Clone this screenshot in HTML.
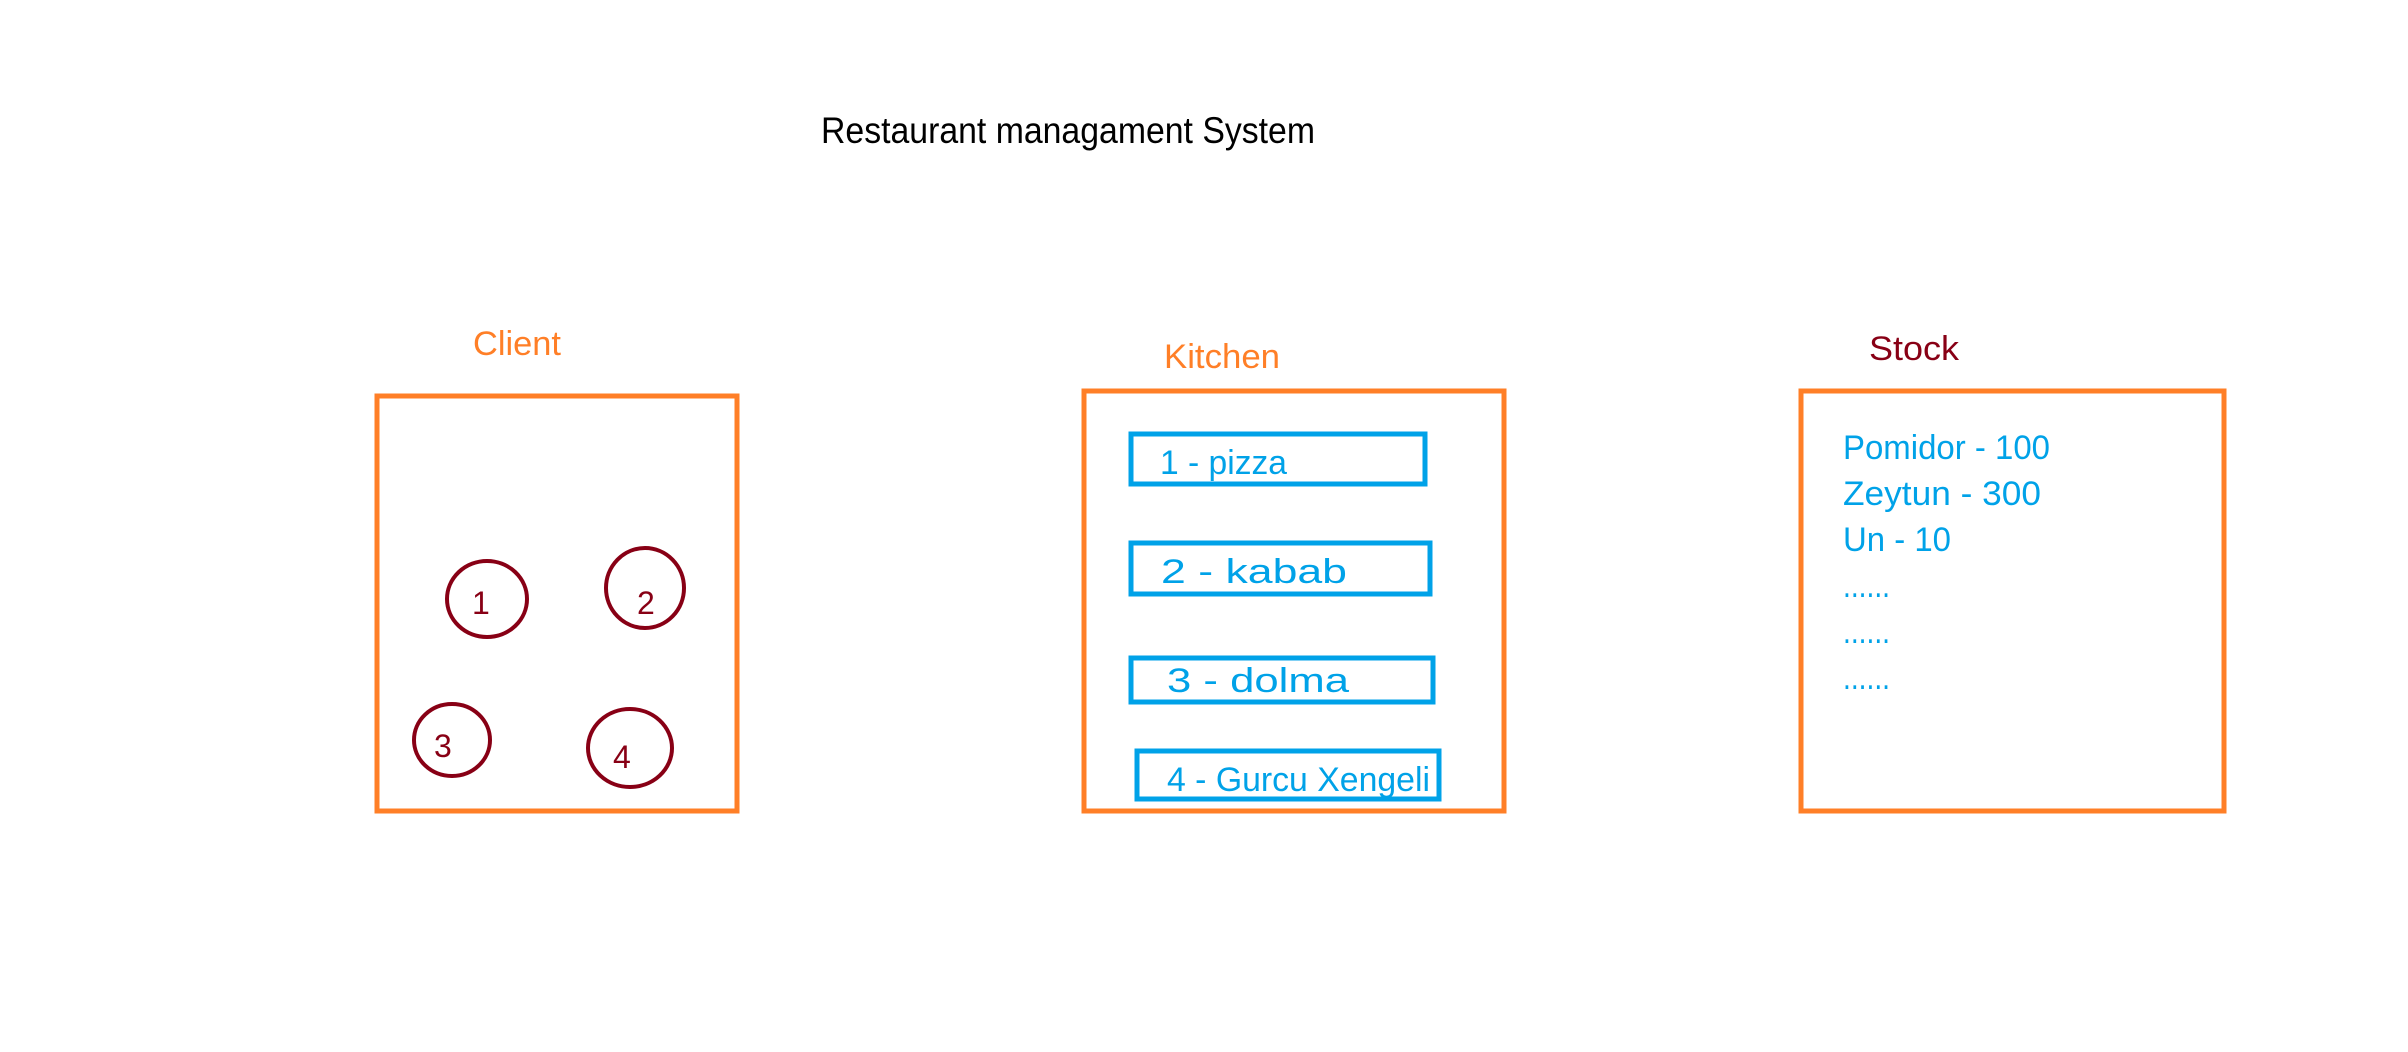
<!DOCTYPE html>
<html><head><meta charset="utf-8"><style>html,body{margin:0;padding:0;background:#fff;}svg{display:block}</style></head>
<body>
<svg width="2408" height="1052" viewBox="0 0 2408 1052" xmlns="http://www.w3.org/2000/svg" font-family="'Liberation Sans', 'DejaVu Sans', sans-serif">
<rect width="2408" height="1052" fill="#fff"/>
<text x="821" y="143" font-size="37" fill="#000" textLength="494" lengthAdjust="spacingAndGlyphs">Restaurant managament System</text>
<text x="473" y="355" font-size="34" fill="#ff7f27" textLength="88" lengthAdjust="spacingAndGlyphs">Client</text>
<text x="1164" y="368" font-size="34" fill="#ff7f27" textLength="116" lengthAdjust="spacingAndGlyphs">Kitchen</text>
<text x="1869" y="360" font-size="34" fill="#880015" textLength="90" lengthAdjust="spacingAndGlyphs">Stock</text>
<g fill="none" stroke="#ff7f27" stroke-width="5">
<rect x="377" y="396" width="360" height="415"/>
<rect x="1084" y="391" width="420" height="420"/>
<rect x="1801" y="391" width="423" height="420"/>
</g>
<g fill="none" stroke="#880015" stroke-width="4">
<ellipse cx="487" cy="599" rx="40" ry="38"/>
<ellipse cx="645" cy="588" rx="39" ry="40"/>
<ellipse cx="452" cy="740" rx="38" ry="36"/>
<ellipse cx="630" cy="748" rx="42" ry="39"/>
</g>
<g fill="#880015" font-size="32">
<text x="472" y="614">1</text>
<text x="637" y="614">2</text>
<text x="434" y="757">3</text>
<text x="613" y="768">4</text>
</g>
<g fill="none" stroke="#00a2e8" stroke-width="5">
<rect x="1131" y="434" width="294" height="50"/>
<rect x="1131" y="543" width="299" height="51"/>
<rect x="1131" y="658" width="302" height="44"/>
<rect x="1137" y="751" width="302" height="48"/>
</g>
<g fill="#00a2e8" font-size="34">
<text x="1160" y="474" textLength="127" lengthAdjust="spacingAndGlyphs">1 - pizza</text>
<text x="1161" y="583" textLength="186" lengthAdjust="spacingAndGlyphs">2 - kabab</text>
<text x="1167" y="692" textLength="182" lengthAdjust="spacingAndGlyphs">3 - dolma</text>
<text x="1167" y="791" textLength="263" lengthAdjust="spacingAndGlyphs">4 - Gurcu Xengeli</text>
<text x="1843" y="459" textLength="207" lengthAdjust="spacingAndGlyphs">Pomidor - 100</text>
<text x="1843" y="505" textLength="198" lengthAdjust="spacingAndGlyphs">Zeytun - 300</text>
<text x="1843" y="551" textLength="108" lengthAdjust="spacingAndGlyphs">Un - 10</text>
<text x="1843" y="597" textLength="47" lengthAdjust="spacingAndGlyphs">......</text>
<text x="1843" y="643" textLength="47" lengthAdjust="spacingAndGlyphs">......</text>
<text x="1843" y="689" textLength="47" lengthAdjust="spacingAndGlyphs">......</text>
</g>
</svg>
</body></html>
